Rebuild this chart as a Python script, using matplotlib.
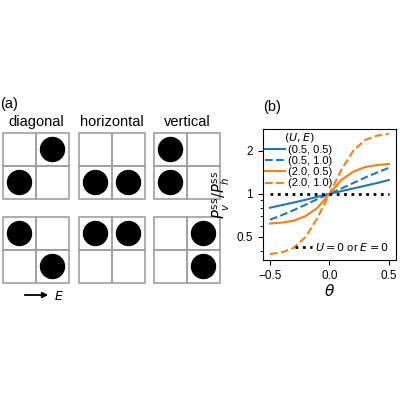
import numpy as np
import matplotlib.pyplot as plt
from matplotlib.patches import Rectangle, Circle
from matplotlib.ticker import NullFormatter

plt.rcParams['font.family'] = ['Liberation Sans', 'DejaVu Sans']

theta = [-0.5, -0.4, -0.3, -0.2, -0.1, 0.0, 0.1, 0.2, 0.3, 0.4, 0.5]
ratio_05_05 = [0.80, 0.835, 0.87, 0.91, 0.955, 1.0, 1.045, 1.09, 1.14, 1.19, 1.25]
ratio_05_10 = [0.66, 0.71, 0.77, 0.84, 0.92, 1.0, 1.09, 1.19, 1.30, 1.41, 1.52]
ratio_20_05 = [0.62, 0.63, 0.65, 0.70, 0.80, 1.0, 1.25, 1.43, 1.54, 1.59, 1.62]
ratio_20_10 = [0.38, 0.39, 0.42, 0.50, 0.68, 1.0, 1.47, 2.0, 2.38, 2.55, 2.63]

# occupied cells per configuration: (col, row), row 0 = top
configs_top = [[(1, 0), (0, 1)], [(0, 1), (1, 1)], [(0, 0), (0, 1)]]
configs_bot = [[(0, 0), (1, 1)], [(0, 0), (1, 0)], [(1, 0), (1, 1)]]
titles = ["diagonal", "horizontal", "vertical"]

fig = plt.figure(figsize=(4, 4), dpi=100)
ax0 = fig.add_axes([0, 0, 1, 1])
ax0.set_xlim(0, 400)
ax0.set_ylim(400, 0)
ax0.axis("off")

box_x = [3, 79, 154]
box_y = [133, 217]
size = 66
cell = size / 2
for j, (x0, title) in enumerate(zip(box_x, titles)):
    ax0.text(x0 + size / 2, 129, title, ha="center", va="bottom", fontsize=10.5)
    for y0, conf in zip(box_y, [configs_top[j], configs_bot[j]]):
        for c in range(2):
            for r in range(2):
                ax0.add_patch(Rectangle((x0 + c * cell, y0 + r * cell), cell, cell,
                                        fill=False, ec="#a0a0a0", lw=1.2))
        for c, r in conf:
            ax0.add_patch(Circle((x0 + c * cell + cell / 2, y0 + r * cell + cell / 2), 12,
                                 color="black"))
ax0.text(0, 104, "(a)", fontsize=10.5, va="center")
ax0.annotate("", xy=(51, 295), xytext=(22, 295),
             arrowprops=dict(arrowstyle="-|>", color="black", lw=1.3, mutation_scale=8))
ax0.text(54, 297, "$E$", fontsize=9, va="center")
ax0.text(263, 107, "(b)", fontsize=10.5, va="center")

ax = fig.add_axes([0.657, 0.35, 0.333, 0.328])
blue = "#1f77b4"
orange = "#ff7f0e"
l1, = ax.plot(theta, ratio_05_05, color=blue, ls="-", lw=1.5, label="(0.5, 0.5)")
l2, = ax.plot(theta, ratio_05_10, color=blue, ls="--", lw=1.5, label="(0.5, 1.0)")
l3, = ax.plot(theta, ratio_20_05, color=orange, ls="-", lw=1.5, label="(2.0, 0.5)")
l4, = ax.plot(theta, ratio_20_10, color=orange, ls="--", lw=1.5, label="(2.0, 1.0)")
l0, = ax.plot([-0.5, 0.5], [1, 1], color="black", ls=":", lw=2, label="$U=0$ or $E=0$")
ax.set_yscale("log")
ax.set_ylim(0.345, 2.85)
ax.set_xlim(-0.56, 0.56)
ax.set_xticks([-0.5, 0.0, 0.5])
ax.set_xticklabels(["\u22120.5", "0.0", "0.5"])
ax.set_yticks([0.5, 1, 2])
ax.set_yticklabels(["0.5", "1", "2"])
ax.yaxis.set_minor_formatter(NullFormatter())
ax.tick_params(labelsize=8.5)
ax.set_xlabel(r"$\theta$", fontsize=11, labelpad=1)
ax.set_ylabel(r"$P_v^{\rm ss}/P_h^{\rm ss}$", fontsize=10.5, labelpad=3)
leg = ax.legend(handles=[l1, l2, l3, l4], title="$(U, E)$", loc="upper left",
                frameon=False, fontsize=8, title_fontsize=8, handlelength=1.8,
                borderpad=0.1, labelspacing=0.1, handletextpad=0.3, borderaxespad=0.1)
ax.add_artist(leg)
ax.legend(handles=[l0], loc="lower right", frameon=False, fontsize=8,
          handlelength=1.5, handletextpad=0.3, borderaxespad=0.2)

fig.savefig("out.png", dpi=100)
